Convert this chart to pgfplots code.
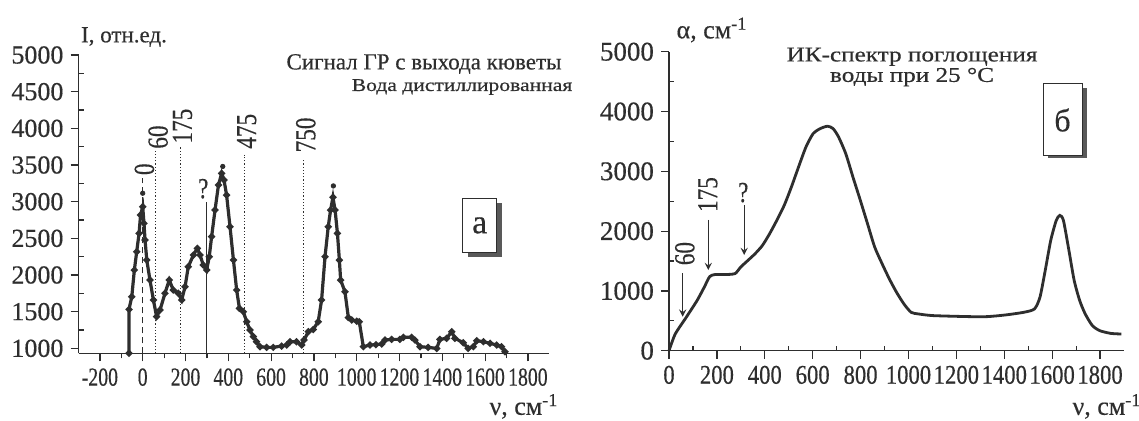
\documentclass[border=0pt]{standalone}
\usepackage{fontspec}
\setmainfont{Liberation Serif}[FakeBold=0.4]
\usepackage{graphicx}
\usepackage{pgfplots}
\pgfplotsset{compat=1.18}
\definecolor{ink}{HTML}{2E2E2E}
\newcommand{\cx}[1]{\scalebox{0.76}[1]{#1}}
\newcommand{\cxr}[1]{\scalebox{0.84}[1]{#1}}
\newcommand{\cz}[1]{\scalebox{0.8}[1]{#1}}
\newcommand{\tf}{\fontsize{12.5}{14}\selectfont}
\newcommand{\rf}{\fontsize{14.5}{16}\selectfont}
\begin{document}
\begin{tikzpicture}
\path[use as bounding box, fill=white] (0,0) rectangle (569.5pt,210pt);
% ---------- panel a ----------
\begin{axis}[
 at={(39.25pt,33.35pt)}, anchor=south west, scale only axis,
 width=235.4pt, height=149.15pt,
 xmin=-300, xmax=1900, ymin=932, ymax=5000,
 axis x line=bottom, axis y line=left,
 axis line style={-, ink, line width=0.6pt},
 xtick={-200,0,...,1800}, minor x tick num=1,
 xticklabels={\cx{-200},\cx{0},\cx{200},\cx{400},\cx{600},\cx{800},\cx{1000},\cx{1200},\cx{1400},\cx{1600},\cx{1800}},
 ytick={1000,1500,...,5000}, minor y tick num=1,
 tick align=outside, major tick length=4pt, minor tick length=2.5pt,
 tick style={ink, line width=0.6pt},
 minor y tick style={xshift=2.5pt},
 yticklabel style={font=\fontsize{13}{15}\selectfont, text=ink},
 xticklabel style={font=\fontsize{13}{15}\selectfont, text=ink},
 /pgf/number format/1000 sep={}, /pgf/number format/assume math mode=true,
 clip=false,
]
\addplot[ink, densely dotted, line width=0.6pt] coordinates {(60,932) (60,3690)};
\addplot[ink, densely dotted, line width=0.6pt] coordinates {(175,932) (175,3750)};
\addplot[ink, densely dotted, line width=0.6pt] coordinates {(475,932) (475,3640)};
\addplot[ink, densely dotted, line width=0.6pt] coordinates {(750,932) (750,3590)};
\addplot[ink, densely dashed, line width=0.6pt] coordinates {(0,932) (0,3320)};
\addplot[ink, line width=0.5pt] coordinates {(296,932) (296,3000)};
\addplot[ink, line width=1.6pt, mark=*, mark size=0.8pt] coordinates {
(-64,932) (-64,1531) (-51,1704) (-39,2068) (-28,2318) (-17,2568) (-10,2818) (0,2931) (6,2704) (11,2477) (19,2204) (34,1931) (50,1659) (65,1431) (81,1522) (104,1750) (124,1931) (143,1795) (166,1750) (182,1659) (198,1840) (213,2113) (237,2272) (255,2363) (268,2272) (283,2136) (299,2068) (311,2250) (322,2522) (338,2886) (354,3227) (369,3386) (380,3295) (392,3090) (408,2659) (424,2204) (439,1795) (452,1545) (470,1500) (486,1363) (501,1250) (517,1159) (532,1090) (548,1022) (579,1013) (610,1013) (649,1031) (673,1045) (688,1090) (719,1090) (743,1045) (754,1113) (774,1227) (797,1258) (820,1363) (836,1659) (852,2250) (867,2659) (878,2886) (889,3060) (899,2886) (910,2568) (919,2204) (925,1931) (945,1772) (961,1420) (977,1386) (1000,1370) (1012,1363) (1031,1022) (1062,1045) (1090,1050) (1117,1059) (1132,1113) (1163,1122) (1202,1122) (1218,1150) (1257,1150) (1272,1113) (1296,1022) (1334,1013) (1374,999) (1389,1122) (1420,1136) (1444,1227) (1459,1136) (1498,1077) (1521,999) (1545,1022) (1561,1104) (1592,1090) (1623,1068) (1654,1045) (1677,1022) (1693,954)};
\addplot[ink, only marks, mark=*, mark size=1.1pt] coordinates {(0,3115) (374,3480) (891,3215)};
\node[rotate=90, anchor=west, inner sep=1pt, text=ink, font=\rf] at (axis cs:8,3330) {\cz{0}};
\node[rotate=90, anchor=west, inner sep=1pt, text=ink, font=\rf] at (axis cs:72,3690) {\cz{60}};
\node[rotate=90, anchor=west, inner sep=1pt, text=ink, font=\rf] at (axis cs:186,3760) {\cz{175}};
\node[rotate=90, anchor=west, inner sep=1pt, text=ink, font=\rf] at (axis cs:486,3690) {\cz{475}};
\node[rotate=90, anchor=west, inner sep=1pt, text=ink, font=\rf] at (axis cs:762,3640) {\cz{750}};
\node[anchor=south, inner sep=1pt, text=ink, font=\rf] at (axis cs:283,3010) {\cz{?}};
\end{axis}
% ---------- panel b ----------
\begin{axis}[
 at={(334.5pt,34.65pt)}, anchor=south west, scale only axis,
 width=227.5pt, height=149.5pt,
 xmin=0, xmax=1900, ymin=0, ymax=5000,
 axis x line=bottom, axis y line=left,
 axis line style={-, ink, line width=0.6pt},
 xtick={0,200,...,1800}, minor x tick num=1,
 xticklabels={\cxr{0},\cxr{200},\cxr{400},\cxr{600},\cxr{800},\cxr{1000},\cxr{1200},\cxr{1400},\cxr{1600},\cxr{1800}},
 ytick={0,1000,...,5000}, minor y tick num=1,
 tick align=outside, major tick length=4pt, minor tick length=2.5pt,
 tick style={ink, line width=0.6pt},
 minor y tick style={xshift=2.5pt},
 minor x tick style={yshift=2.5pt},
 yticklabel style={font=\fontsize{13.5}{15}\selectfont, text=ink},
 xticklabel style={font=\fontsize{13.5}{15}\selectfont, text=ink},
 /pgf/number format/1000 sep={}, /pgf/number format/assume math mode=true,
 clip=false,
]
\addplot[ink, line width=1.4pt, smooth, tension=0.4] coordinates {
(0,0) (26,279) (72,559) (117,838) (147,1061) (170,1240) (193,1274) (238,1274) (276,1290) (299,1397) (329,1508) (359,1620) (390,1760) (420,1955) (450,2179) (481,2430) (511,2737) (541,3073) (572,3408) (602,3631) (632,3715) (662,3754) (685,3715) (708,3575) (738,3296) (768,2905) (799,2514) (829,2123) (859,1732) (890,1453) (920,1201) (950,978) (981,782) (1011,642) (1041,615) (1102,587) (1253,570) (1329,570) (1405,598) (1481,642) (1526,698) (1549,894) (1571,1341) (1594,1844) (1617,2179) (1632,2263) (1647,2179) (1670,1676) (1692,1173) (1715,838) (1738,615) (1768,419) (1799,335) (1844,290) (1889,279)};
\draw[ink, line width=0.6pt, -stealth] (axis cs:57,1294) -- (axis cs:57,569);
\draw[ink, line width=0.6pt, -stealth] (axis cs:164,2186) -- (axis cs:164,1349);
\draw[ink, line width=0.6pt, -stealth] (axis cs:314,2436) -- (axis cs:314,1600);
\node[rotate=90, anchor=west, inner sep=1pt, text=ink, font=\rf] at (axis cs:66,1390) {\cz{60}};
\node[rotate=90, anchor=west, inner sep=1pt, text=ink, font=\rf] at (axis cs:162,2280) {\cz{175}};
\node[anchor=south, inner sep=1pt, text=ink, font=\rf] at (axis cs:310,2440) {\cz{?}};
\end{axis}
% ---------- texts ----------
\node[text=ink, font=\fontsize{11.5}{13}\selectfont] at (62pt,191.5pt) {I, отн.ед.};
\node[text=ink, font=\fontsize{11.5}{13}\selectfont] at (212pt,178pt) {Сигнал ГР с выхода кюветы};
\node[text=ink, font=\fontsize{9}{11}\selectfont] at (231pt,166.5pt) {\scalebox{1.2}[1]{Вода дистиллированная}};
\node[text=ink, font=\fontsize{13}{15}\selectfont] at (262pt,6.8pt) {ν, см\textsuperscript{-1}};
\node[text=ink, font=\fontsize{13}{15}\selectfont] at (356pt,195pt) {α, см\textsuperscript{-1}};
\node[text=ink, font=\fontsize{13}{15}\selectfont] at (553.5pt,6.8pt) {ν, см\textsuperscript{-1}};
\node[text=ink, font=\fontsize{10.5}{7.5}\selectfont, align=center] at (456pt,176.5pt) {\scalebox{1.2}[1]{ИК-спектр поглощения}\\\scalebox{1.2}[1]{воды при 25 °C}};
% boxes
\fill[black!65] (233.85pt,81.65pt) rectangle (250.85pt,108.5pt);
\draw[ink, fill=white, line width=0.5pt] (231.35pt,83.65pt) rectangle (248.35pt,111pt);
\node[text=ink, font=\fontsize{17}{19}\selectfont] at (239.85pt,97.3pt) {а};
\fill[black!65] (524pt,131pt) rectangle (543.5pt,166pt);
\draw[ink, fill=white, line width=0.5pt] (521.5pt,132.5pt) rectangle (541pt,168.5pt);
\node[text=ink, font=\fontsize{16}{19}\selectfont] at (531.25pt,150pt) {б};
\end{tikzpicture}
\end{document}
